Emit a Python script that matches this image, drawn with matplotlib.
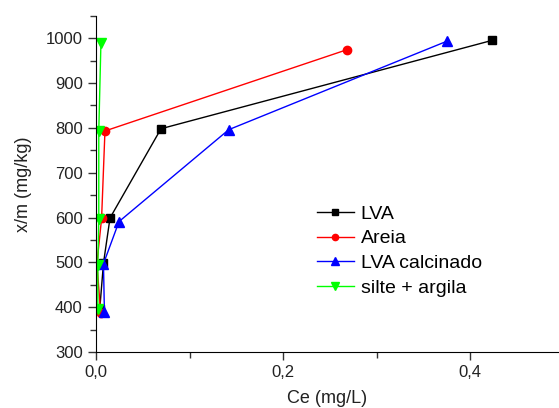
import numpy as np
import matplotlib.pyplot as plt
from matplotlib.ticker import MultipleLocator, FuncFormatter

plt.rcParams['font.family'] = ['Liberation Sans', 'DejaVu Sans']

# data
lva_x = [0.004, 0.008, 0.015, 0.0695, 0.4235]
lva_y = [395, 498, 599, 798, 995]

areia_x = [0.005, 0.001, 0.006, 0.0096, 0.268]
areia_y = [388, 497, 598, 793, 974]

calc_x = [0.009, 0.008, 0.0246, 0.142, 0.375]
calc_y = [390, 497, 591, 796, 993]

silte_x = [0.002, 0.002, 0.003, 0.003, 0.0053]
silte_y = [395, 495, 596, 793, 990]

fig = plt.figure(figsize=(5.59, 4.08), dpi=100)
ax = fig.add_axes([0.1717, 0.137, 0.8283, 0.8245])

ax.plot(lva_x, lva_y, color='black', marker='s', ms=6, lw=1, label='LVA')
ax.plot(areia_x, areia_y, color='red', marker='o', ms=6, lw=1, label='Areia')
ax.plot(calc_x, calc_y, color='blue', marker='^', ms=7, lw=1, label='LVA calcinado')
ax.plot(silte_x, silte_y, color='#00ff00', marker='v', ms=7, lw=1, label='silte + argila')

ax.set_xlim(0, 0.495)
ax.set_ylim(300, 1050)
ax.xaxis.set_major_locator(MultipleLocator(0.2))
ax.xaxis.set_minor_locator(MultipleLocator(0.1))
ax.yaxis.set_major_locator(MultipleLocator(100))
ax.yaxis.set_minor_locator(MultipleLocator(50))
ax.xaxis.set_major_formatter(FuncFormatter(lambda v, p: f"{v:.1f}".replace('.', ',')))

for s in ['top', 'right']:
    ax.spines[s].set_visible(False)
ax.tick_params(which='major', length=6, width=1, labelsize=12, colors='#333333',
               labelcolor='#222222')
ax.tick_params(which='minor', length=4, width=1, colors='#333333')

ax.set_xlabel('Ce (mg/L)', fontsize=13, color='#222222', labelpad=7)
ax.set_ylabel('x/m (mg/kg)', fontsize=13, color='#222222', labelpad=10)

ax.legend(loc='upper left', bbox_to_anchor=(0.477, 0.437), frameon=False,
          fontsize=14, handlelength=1.9, handletextpad=0.36, labelspacing=0.36,
          borderaxespad=0, borderpad=0, markerscale=0.75)

fig.savefig('out.png', dpi=100)
